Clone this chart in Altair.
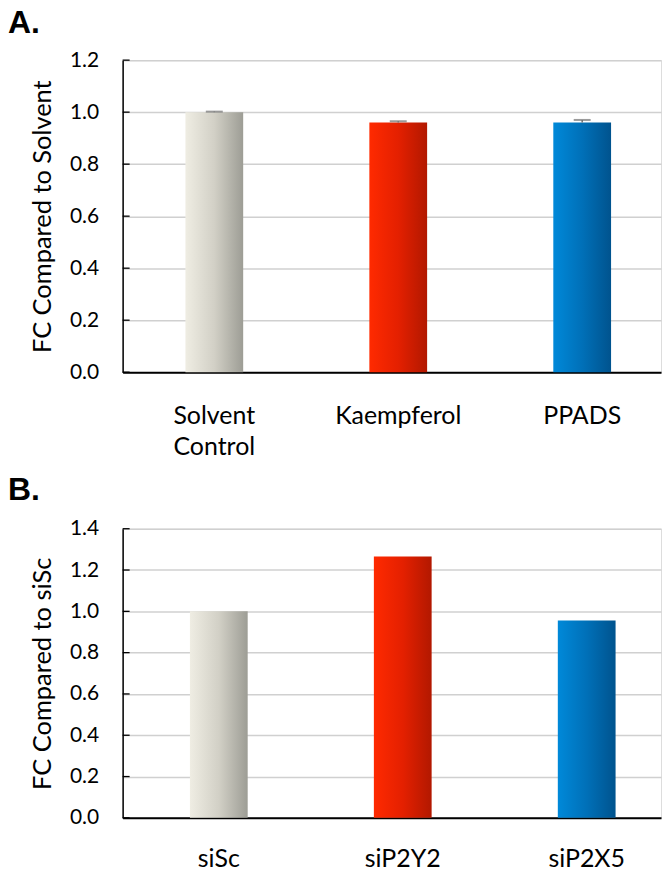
import altair as alt
import pandas as pd

# ---- data ----
cats_a = ["Solvent Control", "Kaempferol", "PPADS"]
vals_a = [1.0, 0.96, 0.96]
errs_a = [0.002, 0.005, 0.01]
ticks_a = [0.0, 0.2, 0.4, 0.6, 0.8, 1.0, 1.2]

cats_b = ["siSc", "siP2Y2", "siP2X5"]
vals_b = [1.0, 1.265, 0.956]
ticks_b = [0.0, 0.2, 0.4, 0.6, 0.8, 1.0, 1.2, 1.4]

grad_colors = [
    ["#efede3", "#d2d0c6", "#9d9d95"],
    ["#ff2a00", "#e42000", "#b21800"],
    ["#0089d9", "#0070b8", "#00538e"],
]

FONT = "Lato"


def grad(cols):
    return alt.LinearGradient(
        gradient="linear",
        stops=[alt.GradientStop(offset=0, color=cols[0]),
               alt.GradientStop(offset=0.5, color=cols[1]),
               alt.GradientStop(offset=1, color=cols[2])],
        x1=0, x2=1, y1=0, y2=0,
    )


def panel(cats, vals, errs, ticks, ymax, title, ytitle, width, height,
          align, title_pad, title_offset, label_pad, split_labels):
    df = pd.DataFrame({"cat": cats, "val": vals})
    xscale = alt.Scale(domain=cats, paddingInner=0.686,
                       paddingOuter=(width / 184.5 - 2.314) / 2, align=align)
    xaxis = alt.Axis(title=None, labelAngle=0, ticks=False, tickSize=0,
                     domainColor="#000000", domainWidth=2,
                     labelFont=FONT, labelFontSize=25, labelColor="#000000",
                     labelPadding=label_pad, labelLineHeight=32,
                     labelExpr="split(datum.label, ' ')" if split_labels else "datum.label")
    yscale = alt.Scale(domain=[0, ymax], nice=False, zero=True)
    yaxis = alt.Axis(title=ytitle, values=ticks, format=".1f",
                     ticks=False, tickSize=0, grid=True, gridColor="#d0d0d0",
                     gridWidth=1.5, domainColor="#000000", domainWidth=1.5,
                     labelFont=FONT, labelFontSize=21, labelColor="#000000",
                     labelPadding=24,
                     titleFont=FONT, titleFontSize=25.5, titleFontWeight="normal",
                     titleColor="#000000", titlePadding=title_pad)

    layers = []
    base = alt.Chart(df)
    for i, c in enumerate(cats):
        layers.append(
            base.mark_bar(color=grad(grad_colors[i]))
            .transform_filter(alt.datum.cat == c)
            .encode(x=alt.X("cat:N", scale=xscale, axis=xaxis, sort=cats),
                    y=alt.Y("val:Q", scale=yscale, axis=yaxis))
        )
    if errs is not None:
        edf = pd.DataFrame({"cat": cats, "val": vals, "err": errs})
        edf["hi"] = edf["val"] + edf["err"]
        eb = alt.Chart(edf)
        layers.append(eb.mark_rule(color="#707070", strokeWidth=1.5).encode(
            x=alt.X("cat:N", sort=cats), y="val:Q", y2="hi:Q"))
        layers.append(eb.mark_tick(color="#707070", thickness=2, size=17).encode(
            x=alt.X("cat:N", sort=cats), y="hi:Q"))
    # inside tick marks on y axis
    tdf = pd.DataFrame({"t": ticks})
    layers.append(alt.Chart(tdf).mark_rule(color="#000000", strokeWidth=1.3).encode(
        y="t:Q", x=alt.value(0), x2=alt.value(7)))
    return alt.layer(*layers).properties(
        width=width, height=height,
        title=alt.TitleParams(title, anchor="start", frame="group", dx=-115,
                              font="Liberation Sans", fontSize=32,
                              fontWeight="bold", color="#000000",
                              offset=title_offset),
    )


a = panel(cats_a, vals_a, errs_a, ticks_a, 1.2, "A.", "FC Compared to Solvent",
          540, 313, 0.557, 14, 9, 31, True)
b = panel(cats_b, vals_b, None, ticks_b, 1.4, "B.", "FC Compared to siSc",
          540, 290, 0.597, 14, 11, 29, False)

chart = alt.concat(a, b, columns=1, spacing=12, align="none").properties(
    padding={"left": 7, "top": 5, "right": 0, "bottom": 0}
).configure_view(stroke=None).configure(background="white")

chart.save("out.html", embed_options={"renderer": "svg", "actions": False})
